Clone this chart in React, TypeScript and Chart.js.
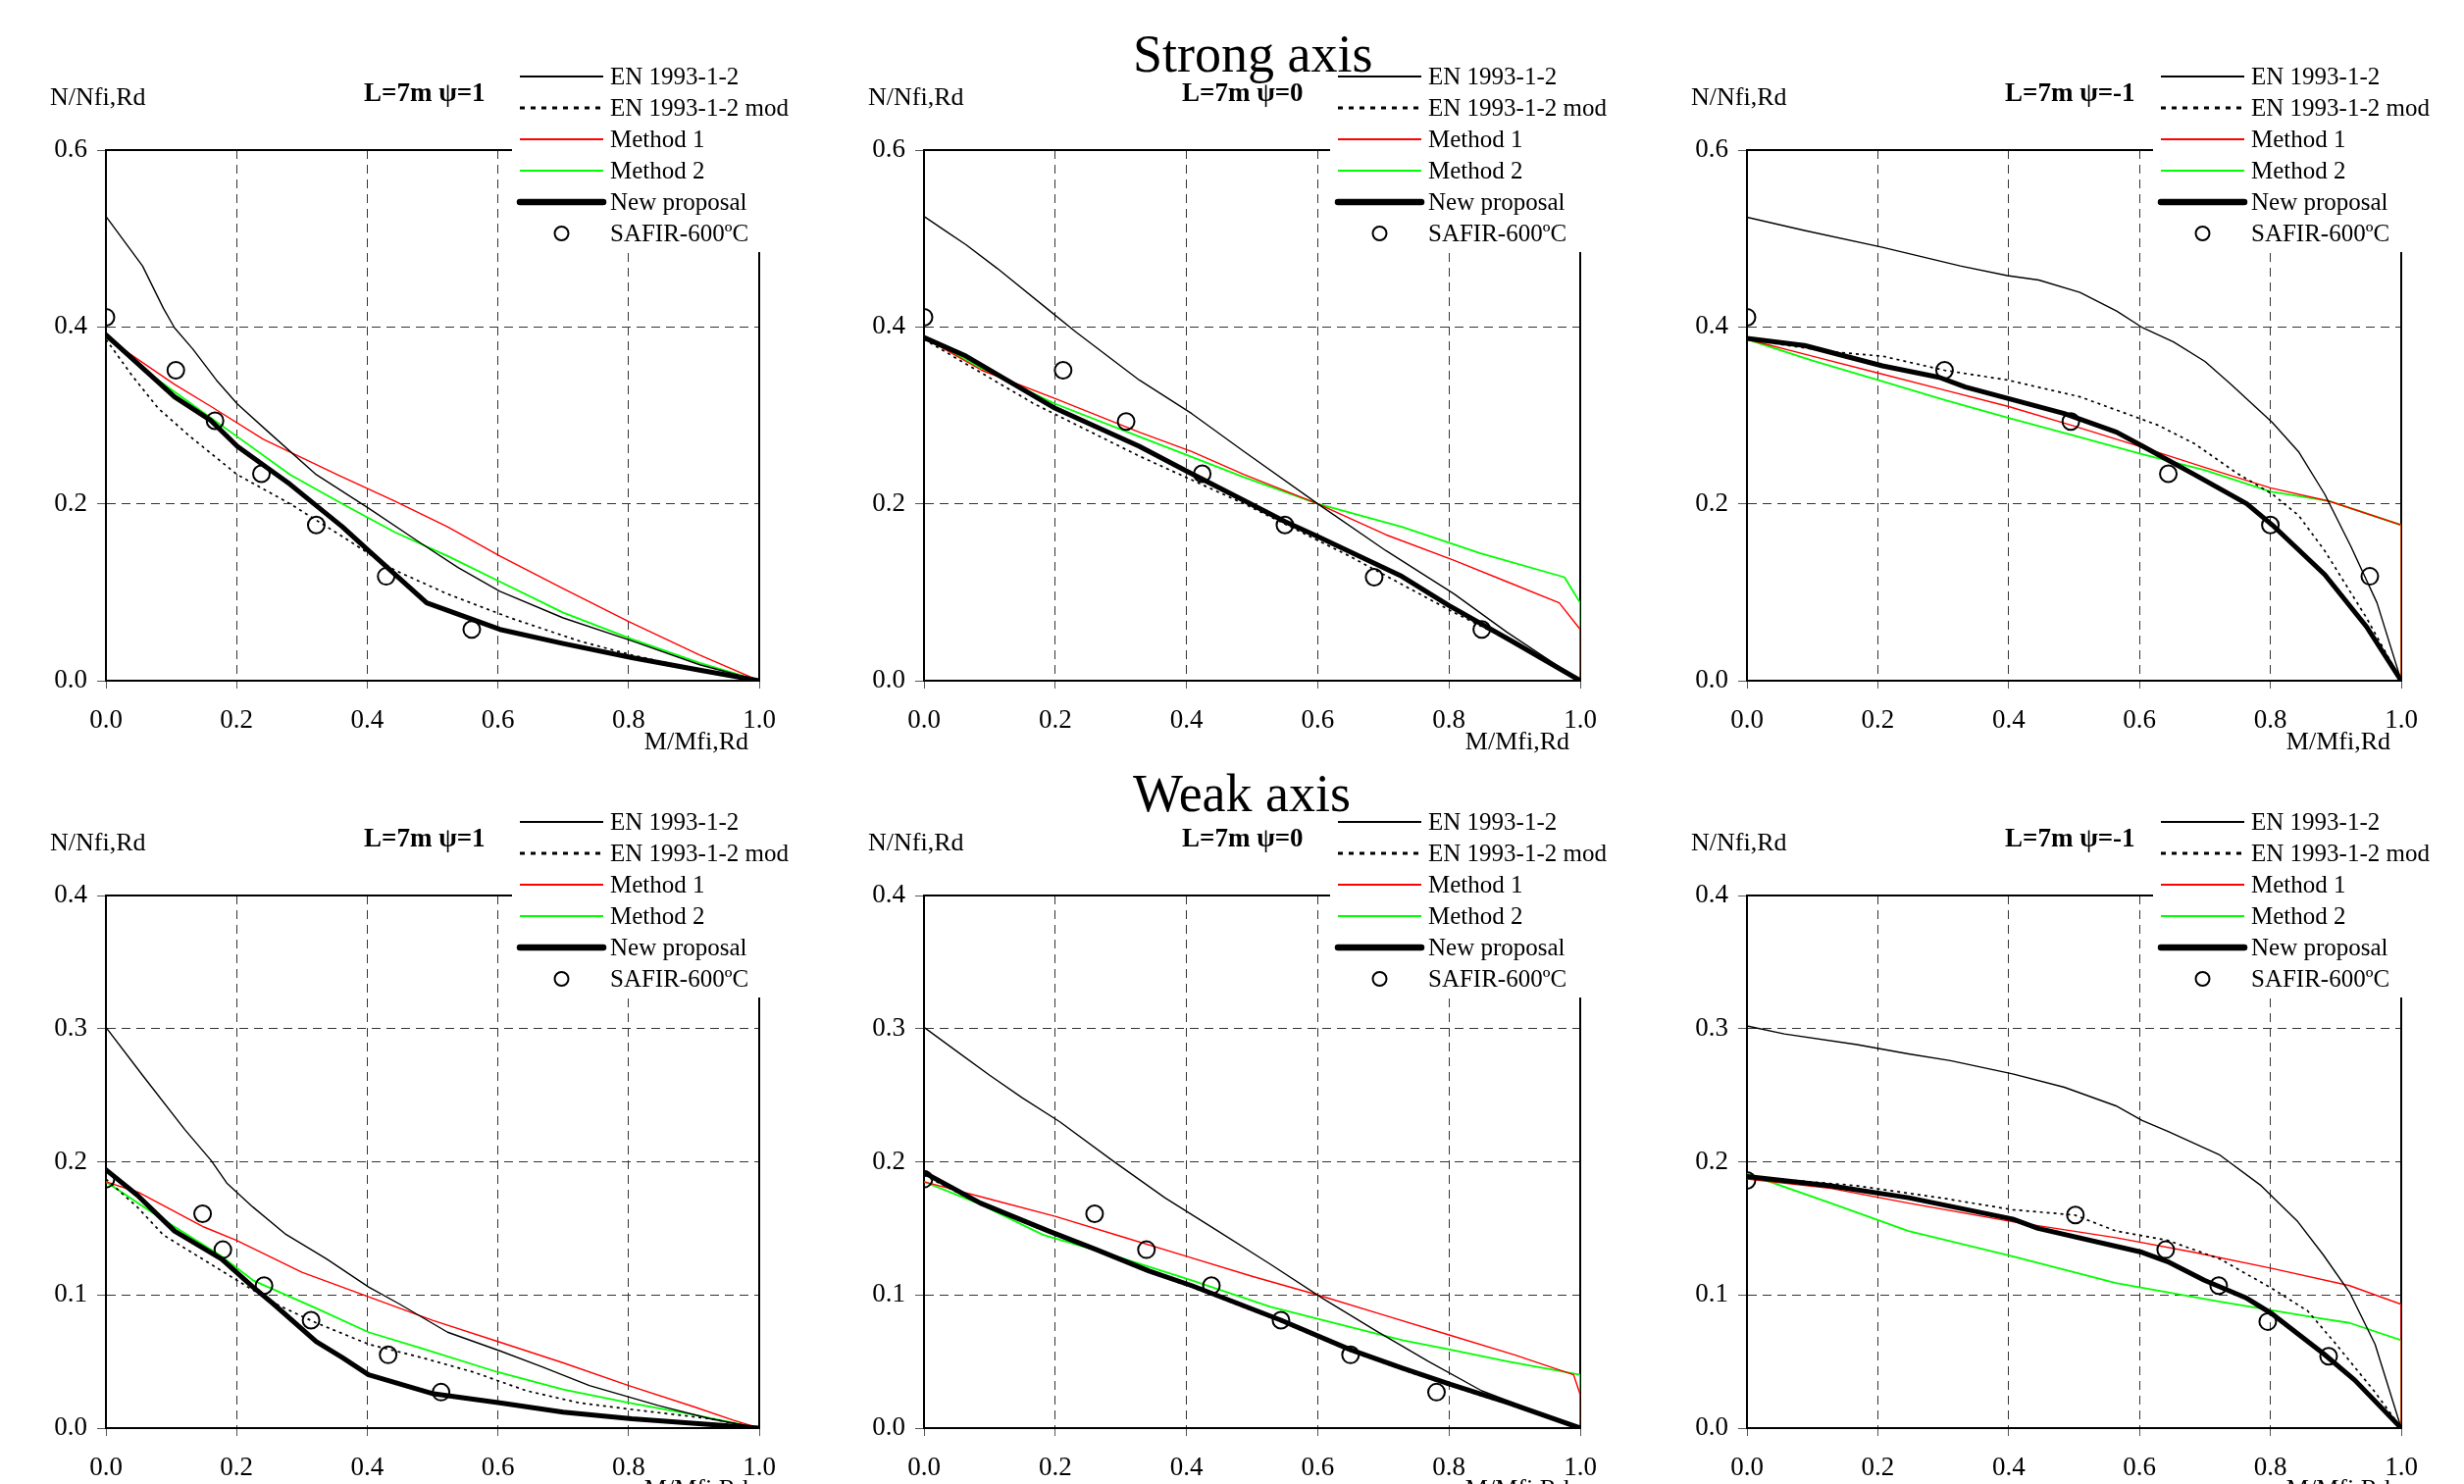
import React, { useEffect, useRef } from 'react';
import { Chart, registerables } from 'chart.js';

Chart.register(...registerables);

type P = [number, number][];

// ---------- Data (x = M/Mfi,Rd, y = N/Nfi,Rd) ----------
// Strong axis, psi = 1
const S1_EN: P = [[0, 0.525], [0.056, 0.469], [0.088, 0.421], [0.105, 0.399], [0.133, 0.375], [0.169, 0.34], [0.201, 0.313], [0.249, 0.281], [0.322, 0.233], [0.402, 0.195], [0.483, 0.155], [0.539, 0.128], [0.603, 0.101], [0.7, 0.071], [0.805, 0.045], [0.909, 0.018], [1, 0]];
const S1_MOD: P = [[0, 0.386], [0.04, 0.345], [0.08, 0.308], [0.129, 0.276], [0.201, 0.233], [0.282, 0.2], [0.362, 0.163], [0.442, 0.125], [0.523, 0.098], [0.619, 0.071], [0.724, 0.045], [0.805, 0.029], [0.909, 0.012], [1, 0]];
const S1_M1: P = [[0, 0.388], [0.105, 0.335], [0.161, 0.31], [0.241, 0.273], [0.354, 0.233], [0.442, 0.203], [0.523, 0.174], [0.603, 0.141], [0.7, 0.104], [0.8, 0.067], [0.909, 0.029], [1, 0]];
const S1_M2: P = [[0, 0.388], [0.08, 0.34], [0.161, 0.297], [0.201, 0.276], [0.282, 0.233], [0.362, 0.2], [0.442, 0.168], [0.523, 0.141], [0.603, 0.112], [0.7, 0.077], [0.805, 0.047], [0.909, 0.02], [1, 0]];
const S1_NP: P = [[0, 0.391], [0.105, 0.321], [0.161, 0.294], [0.201, 0.265], [0.282, 0.222], [0.362, 0.174], [0.402, 0.147], [0.491, 0.088], [0.603, 0.058], [0.7, 0.042], [0.805, 0.026], [0.909, 0.012], [1, 0]];
const S1_SAFIR: P = [[0, 0.411], [0.107, 0.351], [0.167, 0.294], [0.238, 0.234], [0.322, 0.176], [0.429, 0.118], [0.56, 0.058]];

// Strong axis, psi = 0
const S2_EN: P = [[0, 0.525], [0.032, 0.509], [0.064, 0.493], [0.112, 0.466], [0.192, 0.418], [0.232, 0.394], [0.328, 0.34], [0.408, 0.302], [0.488, 0.259], [0.6, 0.2], [0.704, 0.147], [0.808, 0.098], [0.888, 0.055], [1, 0]];
const S2_MOD: P = [[0, 0.386], [0.168, 0.313], [0.328, 0.254], [0.488, 0.2], [0.648, 0.141], [0.808, 0.077], [0.888, 0.047], [1, 0]];
const S2_M1: P = [[0, 0.388], [0.088, 0.351], [0.2, 0.319], [0.328, 0.281], [0.408, 0.259], [0.488, 0.233], [0.6, 0.2], [0.704, 0.165], [0.808, 0.136], [0.888, 0.112], [0.968, 0.088], [1, 0.058], [1, 0]];
const S2_M2: P = [[0, 0.388], [0.088, 0.353], [0.2, 0.313], [0.328, 0.276], [0.488, 0.23], [0.6, 0.2], [0.728, 0.174], [0.848, 0.144], [0.976, 0.117], [1, 0.088], [1, 0]];
const S2_NP: P = [[0, 0.388], [0.064, 0.367], [0.2, 0.308], [0.328, 0.265], [0.4, 0.237], [0.5, 0.199], [0.55, 0.18], [0.6, 0.163], [0.728, 0.118], [0.8, 0.085], [0.9, 0.043], [1, 0]];
const S2_SAFIR: P = [[0, 0.411], [0.212, 0.351], [0.308, 0.293], [0.424, 0.234], [0.55, 0.176], [0.686, 0.117], [0.85, 0.058]];

// Strong axis, psi = -1
const S3_EN: P = [[0, 0.524], [0.088, 0.509], [0.207, 0.49], [0.326, 0.469], [0.398, 0.458], [0.446, 0.453], [0.509, 0.439], [0.565, 0.418], [0.605, 0.399], [0.652, 0.383], [0.7, 0.361], [0.74, 0.335], [0.803, 0.292], [0.843, 0.259], [0.883, 0.211], [0.923, 0.152], [0.963, 0.088], [1, 0]];
const S3_MOD: P = [[0, 0.386], [0.127, 0.372], [0.207, 0.367], [0.302, 0.351], [0.398, 0.34], [0.509, 0.321], [0.628, 0.289], [0.684, 0.268], [0.748, 0.235], [0.803, 0.211], [0.843, 0.187], [0.883, 0.147], [0.947, 0.071], [1, 0]];
const S3_M1: P = [[0, 0.386], [0.1, 0.367], [0.2, 0.348], [0.3, 0.329], [0.4, 0.31], [0.5, 0.288], [0.6, 0.265], [0.7, 0.241], [0.8, 0.218], [0.89, 0.203], [1, 0.176], [1, 0]];
const S3_M2: P = [[0, 0.386], [0.1, 0.362], [0.2, 0.34], [0.3, 0.318], [0.4, 0.297], [0.5, 0.277], [0.6, 0.257], [0.7, 0.238], [0.8, 0.214], [0.89, 0.203], [1, 0.176], [1, 0]];
const S3_NP: P = [[0, 0.387], [0.088, 0.379], [0.207, 0.356], [0.294, 0.343], [0.334, 0.332], [0.485, 0.302], [0.565, 0.281], [0.605, 0.265], [0.684, 0.233], [0.764, 0.2], [0.803, 0.176], [0.883, 0.12], [0.947, 0.061], [1, 0]];
const S3_SAFIR: P = [[0, 0.411], [0.302, 0.351], [0.495, 0.293], [0.644, 0.234], [0.8, 0.176], [0.952, 0.118]];

// Weak axis, psi = 1
const W1_EN: P = [[0, 0.301], [0.056, 0.265], [0.121, 0.224], [0.161, 0.201], [0.185, 0.184], [0.225, 0.166], [0.274, 0.146], [0.338, 0.127], [0.402, 0.106], [0.45, 0.093], [0.523, 0.072], [0.603, 0.058], [0.668, 0.046], [0.74, 0.032], [0.845, 0.017], [0.925, 0.007], [1, 0]];
const W1_MOD: P = [[0, 0.187], [0.048, 0.166], [0.088, 0.145], [0.161, 0.123], [0.217, 0.106], [0.265, 0.092], [0.322, 0.079], [0.402, 0.063], [0.483, 0.053], [0.563, 0.042], [0.644, 0.028], [0.724, 0.019], [0.805, 0.014], [0.925, 0.007], [1, 0]];
const W1_M1: P = [[0, 0.185], [0.05, 0.177], [0.1, 0.164], [0.15, 0.151], [0.2, 0.141], [0.25, 0.129], [0.3, 0.117], [0.35, 0.108], [0.4, 0.099], [0.5, 0.081], [0.6, 0.065], [0.7, 0.049], [0.8, 0.032], [0.9, 0.016], [0.96, 0.006], [1, 0]];
const W1_M2: P = [[0, 0.185], [0.08, 0.159], [0.177, 0.129], [0.225, 0.111], [0.322, 0.09], [0.402, 0.072], [0.483, 0.06], [0.6, 0.042], [0.7, 0.029], [0.8, 0.019], [0.9, 0.01], [1, 0]];
const W1_NP: P = [[0, 0.194], [0.048, 0.175], [0.105, 0.148], [0.177, 0.127], [0.225, 0.106], [0.257, 0.093], [0.322, 0.065], [0.362, 0.053], [0.402, 0.04], [0.499, 0.026], [0.603, 0.019], [0.7, 0.012], [0.805, 0.007], [1, 0]];
const W1_SAFIR: P = [[0, 0.187], [0.148, 0.161], [0.179, 0.134], [0.242, 0.107], [0.314, 0.081], [0.432, 0.055], [0.513, 0.027]];

// Weak axis, psi = 0
const W2_EN: P = [[0, 0.301], [0.05, 0.283], [0.1, 0.265], [0.15, 0.248], [0.207, 0.23], [0.287, 0.201], [0.367, 0.173], [0.448, 0.148], [0.528, 0.123], [0.609, 0.097], [0.649, 0.085], [0.689, 0.073], [0.769, 0.05], [0.85, 0.028], [0.93, 0.013], [1, 0]];
const W2_MOD: P = [[0, 0.19], [0.086, 0.168], [0.19, 0.147], [0.263, 0.133], [0.343, 0.117], [0.408, 0.106], [0.544, 0.08], [0.649, 0.058], [0.729, 0.044], [0.801, 0.032], [0.89, 0.018], [1, 0]];
const W2_M1: P = [[0, 0.185], [0.1, 0.172], [0.2, 0.159], [0.3, 0.144], [0.4, 0.129], [0.5, 0.114], [0.6, 0.1], [0.7, 0.085], [0.8, 0.07], [0.9, 0.055], [0.99, 0.04], [1, 0.025], [1, 0]];
const W2_M2: P = [[0, 0.185], [0.086, 0.168], [0.182, 0.145], [0.287, 0.13], [0.408, 0.111], [0.528, 0.091], [0.609, 0.081], [0.729, 0.066], [0.801, 0.059], [0.89, 0.05], [1, 0.04], [1, 0]];
const W2_NP: P = [[0, 0.192], [0.086, 0.169], [0.19, 0.148], [0.263, 0.134], [0.343, 0.118], [0.408, 0.107], [0.544, 0.081], [0.649, 0.059], [0.729, 0.045], [0.801, 0.033], [0.89, 0.019], [1, 0]];
const W2_SAFIR: P = [[0, 0.187], [0.26, 0.161], [0.339, 0.134], [0.438, 0.107], [0.544, 0.081], [0.65, 0.055], [0.781, 0.027]];

// Weak axis, psi = -1
const W3_EN: P = [[0, 0.302], [0.057, 0.296], [0.168, 0.288], [0.247, 0.281], [0.311, 0.276], [0.406, 0.266], [0.485, 0.256], [0.564, 0.242], [0.604, 0.231], [0.643, 0.223], [0.723, 0.205], [0.786, 0.182], [0.842, 0.155], [0.881, 0.13], [0.921, 0.102], [0.96, 0.063], [1, 0]];
const W3_MOD: P = [[0, 0.189], [0.168, 0.182], [0.295, 0.173], [0.406, 0.164], [0.501, 0.16], [0.564, 0.148], [0.643, 0.141], [0.723, 0.127], [0.802, 0.105], [0.857, 0.088], [0.897, 0.065], [0.96, 0.027], [1, 0]];
const W3_M1: P = [[0, 0.187], [0.128, 0.18], [0.247, 0.169], [0.406, 0.155], [0.564, 0.143], [0.683, 0.132], [0.802, 0.12], [0.921, 0.107], [1, 0.093], [1, 0]];
const W3_M2: P = [[0, 0.191], [0.128, 0.169], [0.247, 0.148], [0.406, 0.129], [0.564, 0.109], [0.723, 0.095], [0.881, 0.082], [0.921, 0.079], [1, 0.066], [1, 0]];
const W3_NP: P = [[0, 0.189], [0.128, 0.182], [0.247, 0.173], [0.406, 0.157], [0.445, 0.15], [0.604, 0.132], [0.643, 0.125], [0.699, 0.111], [0.762, 0.098], [0.802, 0.086], [0.881, 0.056], [0.929, 0.036], [1, 0]];
const W3_SAFIR: P = [[0, 0.186], [0.502, 0.16], [0.64, 0.134], [0.721, 0.107], [0.796, 0.08], [0.889, 0.054]];

const SERIES_LABELS = ['EN 1993-1-2', 'EN 1993-1-2 mod', 'Method 1', 'Method 2', 'New proposal', 'SAFIR-600ºC'];
const PANEL_TITLES = ['L=7m ψ=1', 'L=7m ψ=0', 'L=7m ψ=-1'];
const ROW_TITLES = ['Strong axis', 'Weak axis'];
const X_LABEL = 'M/Mfi,Rd';
const Y_LABEL = 'N/Nfi,Rd';
const X_TICK_STEP = 0.2;
const ROW_Y_MAX = [0.6, 0.4];
const ROW_Y_STEP = [0.2, 0.1];

const PANEL_SERIES: P[][][] = [
  [
    [S1_EN, S1_MOD, S1_M1, S1_M2, S1_NP, S1_SAFIR],
    [S2_EN, S2_MOD, S2_M1, S2_M2, S2_NP, S2_SAFIR],
    [S3_EN, S3_MOD, S3_M1, S3_M2, S3_NP, S3_SAFIR],
  ],
  [
    [W1_EN, W1_MOD, W1_M1, W1_M2, W1_NP, W1_SAFIR],
    [W2_EN, W2_MOD, W2_M1, W2_M2, W2_NP, W2_SAFIR],
    [W3_EN, W3_MOD, W3_M1, W3_M2, W3_NP, W3_SAFIR],
  ],
];

// ---------- Layout / style ----------
const FONT = '"Liberation Serif", "Times New Roman", serif';
const CANVAS_W = 835;
const COLS = [
  { canvasLeft: 0, plotLeft: 108, plotRight: 774 },
  { canvasLeft: 834, plotLeft: 942, plotRight: 1611 },
  { canvasLeft: 1673, plotLeft: 1781, plotRight: 2448 },
];
const ROWS = [
  { canvasTop: 0, height: 790, plotTop: 153, plotBottom: 694, bigBaseline: 73, boxTop: 0 },
  { canvasTop: 760, height: 753, plotTop: 153, plotBottom: 696, bigBaseline: 67, boxTop: 35 },
];
const Y_AXIS_W = 100;
const X_AXIS_H = 50;

const STYLES = [
  { color: '#000000', width: 1.4, dash: [] as number[], lw: 2, ldash: [] as number[], order: 2 },
  { color: '#000000', width: 1.7, dash: [3, 4], lw: 3, ldash: [5, 6], order: 3 },
  { color: '#ff0000', width: 1.4, dash: [], lw: 2, ldash: [], order: 4 },
  { color: '#00ff00', width: 1.8, dash: [], lw: 2.2, ldash: [], order: 5 },
  { color: '#000000', width: 5, dash: [], lw: 6.5, ldash: [], order: 1 },
  { color: '#000000', width: 2, dash: [], lw: 2, ldash: [], order: 0 },
];

function makePlugin(row: number, col: number) {
  return {
    id: 'panelDecor' + row + col,
    beforeDatasetsDraw(chart: any) {
      const { ctx, chartArea: a } = chart;
      ctx.save();
      ctx.strokeStyle = '#000';
      ctx.lineWidth = 2;
      ctx.beginPath();
      ctx.moveTo(a.left, a.top);
      ctx.lineTo(a.right + 1, a.top);
      ctx.moveTo(a.right, a.top);
      ctx.lineTo(a.right, a.bottom);
      ctx.stroke();
      ctx.restore();
    },
    afterDatasetsDraw(chart: any) {
      const { ctx, chartArea: a } = chart;
      ctx.save();
      // white legend box overlapping top-right of the plot
      ctx.fillStyle = '#ffffff';
      const bx = a.left + 414;
      const by = ROWS[row].boxTop;
      ctx.fillRect(bx, by, chart.width - bx, a.top + 104 - by);

      // legend
      const lx0 = a.left + 422;
      const lx1 = a.left + 507;
      const tx = a.left + 514;
      ctx.font = `25px ${FONT}`;
      ctx.textBaseline = 'middle';
      ctx.textAlign = 'left';
      SERIES_LABELS.forEach((label, i) => {
        const y = a.top - 75 + 32 * i;
        const st = STYLES[i];
        ctx.save();
        ctx.strokeStyle = st.color;
        ctx.lineWidth = st.lw;
        if (i === 5) {
          ctx.beginPath();
          ctx.arc((lx0 + lx1) / 2, y, 7, 0, Math.PI * 2);
          ctx.stroke();
        } else {
          ctx.setLineDash(st.ldash);
          ctx.lineCap = i === 4 ? 'round' : 'butt';
          ctx.beginPath();
          ctx.moveTo(lx0, y);
          ctx.lineTo(lx1, y);
          ctx.stroke();
        }
        ctx.restore();
        ctx.fillStyle = '#000';
        ctx.fillText(label, tx, y + 1);
      });

      // panel title
      ctx.font = `bold 27px ${FONT}`;
      ctx.textBaseline = 'alphabetic';
      ctx.fillStyle = '#000';
      ctx.fillText(PANEL_TITLES[col], a.left + 263, a.top - 50);

      // axis titles
      ctx.font = `26px ${FONT}`;
      ctx.fillText(Y_LABEL, a.left - 57, a.top - 46);
      ctx.textAlign = 'right';
      ctx.fillText(X_LABEL, a.right - 11, a.bottom + 70);

      // row title
      if (col === 1) {
        ctx.textAlign = 'left';
        ctx.font = `54px ${FONT}`;
        ctx.fillText(ROW_TITLES[row], a.left + 213, ROWS[row].bigBaseline);
      }
      ctx.restore();
    },
  };
}

function Panel({ row, col }: { row: number; col: number }) {
  const ref = useRef<HTMLCanvasElement>(null);
  const C = COLS[col];
  const R = ROWS[row];
  useEffect(() => {
    const canvas = ref.current;
    if (!canvas) return;
    const series = PANEL_SERIES[row][col];
    const yMax = ROW_Y_MAX[row];
    const isEdge = (v: number, max: number) => Math.abs(v) < 1e-9 || Math.abs(v - max) < 1e-9;
    const datasets = series.map((pts, i) => {
      const st = STYLES[i];
      const data = pts.map(([x, y]) => ({ x, y }));
      if (i === 5) {
        return {
          label: SERIES_LABELS[i],
          data,
          showLine: false,
          pointRadius: 8.5,
          pointStyle: 'circle',
          pointBorderWidth: st.width,
          pointBorderColor: st.color,
          pointBackgroundColor: 'rgba(0,0,0,0)',
          borderColor: st.color,
          backgroundColor: 'rgba(0,0,0,0)',
          order: st.order,
        };
      }
      return {
        label: SERIES_LABELS[i],
        data,
        borderColor: st.color,
        backgroundColor: st.color,
        borderWidth: st.width,
        borderDash: st.dash,
        borderJoinStyle: 'round',
        borderCapStyle: i === 4 ? 'round' : 'butt',
        pointRadius: 0,
        tension: 0,
        fill: false,
        order: st.order,
      };
    });
    const pad = {
      left: C.plotLeft - C.canvasLeft - Y_AXIS_W,
      right: CANVAS_W - (C.plotRight - C.canvasLeft),
      top: R.plotTop,
      bottom: R.height - R.plotBottom - X_AXIS_H,
    };
    const tickFont = { family: FONT, size: 27 };
    const chart = new Chart(canvas, {
      type: 'line',
      data: { datasets: datasets as any },
      options: {
        animation: false,
        responsive: false,
        maintainAspectRatio: false,
        devicePixelRatio: 1,
        events: [],
        layout: { padding: pad },
        plugins: {
          legend: { display: false },
          tooltip: { enabled: false },
          title: { display: false },
        },
        scales: {
          x: {
            type: 'linear',
            position: 'bottom',
            min: 0,
            max: 1,
            afterFit: (s: any) => {
              s.height = X_AXIS_H;
            },
            ticks: {
              stepSize: X_TICK_STEP,
              autoSkip: false,
              maxRotation: 0,
              padding: 17,
              color: '#000',
              font: tickFont,
              callback: (v: any) => Number(v).toFixed(1),
            },
            grid: {
              color: (c: any) => (c.tick && isEdge(c.tick.value, 1) ? 'rgba(0,0,0,0)' : '#333333'),
              lineWidth: 1,
              tickColor: '#555555',
              tickLength: 8,
              tickWidth: 1,
            },
            border: { display: true, color: '#000', width: 2, dash: [9, 6] },
          },
          y: {
            type: 'linear',
            position: 'left',
            min: 0,
            max: yMax,
            afterFit: (s: any) => {
              s.width = Y_AXIS_W;
            },
            ticks: {
              stepSize: ROW_Y_STEP[row],
              autoSkip: false,
              padding: 10,
              color: '#000',
              font: tickFont,
              callback: (v: any) => Number(v).toFixed(1),
            },
            grid: {
              color: (c: any) => (c.tick && isEdge(c.tick.value, yMax) ? 'rgba(0,0,0,0)' : '#333333'),
              lineWidth: 1,
              tickColor: '#555555',
              tickLength: 9,
              tickWidth: 1,
            },
            border: { display: true, color: '#000', width: 2, dash: [9, 6] },
          },
        },
      } as any,
      plugins: [makePlugin(row, col)],
    });
    return () => chart.destroy();
  }, [row, col]);
  return (
    <canvas
      ref={ref}
      width={CANVAS_W}
      height={R.height}
      style={{ position: 'absolute', left: C.canvasLeft, top: R.canvasTop, width: CANVAS_W, height: R.height, display: 'block' }}
    />
  );
}

export default function App() {
  const panels: { row: number; col: number }[] = [];
  for (let r = 0; r < 2; r++) for (let c = 0; c < 3; c++) panels.push({ row: r, col: c });
  return (
    <div style={{ position: 'absolute', left: 0, top: 0, width: 2512, height: 1513, overflow: 'hidden', background: '#ffffff' }}>
      {panels.map((p) => (
        <Panel key={`${p.row}-${p.col}`} row={p.row} col={p.col} />
      ))}
    </div>
  );
}
